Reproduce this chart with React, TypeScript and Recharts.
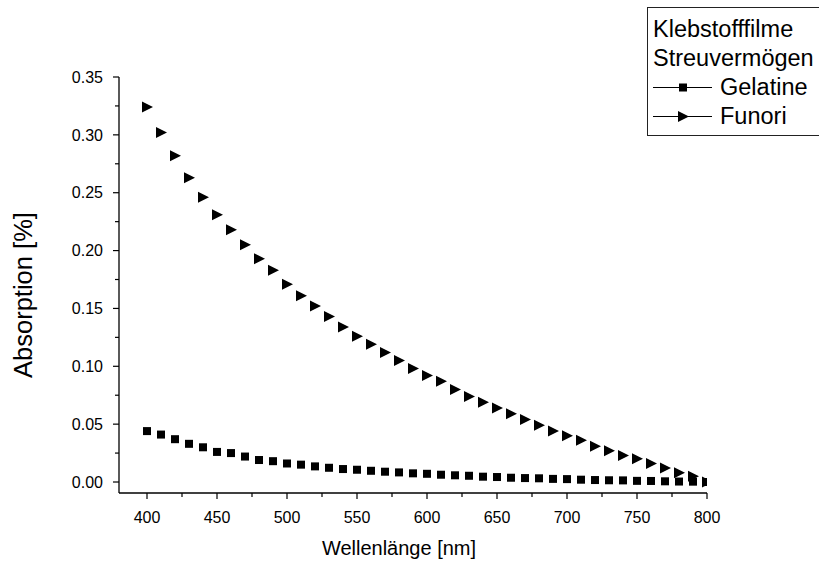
import { ScatterChart, Scatter, XAxis, YAxis, Legend } from 'recharts';

const wavelengths = [
  400, 410, 420, 430, 440, 450, 460, 470, 480, 490, 500, 510, 520, 530, 540, 550, 560, 570, 580, 590, 600,
  610, 620, 630, 640, 650, 660, 670, 680, 690, 700, 710, 720, 730, 740, 750, 760, 770, 780, 790, 800,
];

const gelatine = [
  0.044, 0.041, 0.037, 0.033, 0.030, 0.026, 0.025, 0.022, 0.019, 0.018, 0.016, 0.015, 0.0135, 0.0123, 0.0112,
  0.0106, 0.0097, 0.0089, 0.0083, 0.0075, 0.0071, 0.0063, 0.0058, 0.0054, 0.0046, 0.0043, 0.0037, 0.0034,
  0.0032, 0.0027, 0.0025, 0.002, 0.0017, 0.0015, 0.0014, 0.001, 0.0009, 0.0006, 0.0004, 0.0003, 0.0,
];

const funori = [
  0.324, 0.302, 0.282, 0.263, 0.246, 0.231, 0.218, 0.205, 0.193, 0.183, 0.171, 0.161, 0.152, 0.143, 0.134,
  0.126, 0.119, 0.112, 0.105, 0.098, 0.092, 0.087, 0.080, 0.074, 0.069, 0.064, 0.059, 0.054, 0.049, 0.044,
  0.040, 0.036, 0.031, 0.027, 0.023, 0.020, 0.016, 0.012, 0.008, 0.005, 0.0,
];

const xMajor = [400, 450, 500, 550, 600, 650, 700, 750, 800];
const xMinor = [425, 475, 525, 575, 625, 675, 725, 775];
const yMajor = [0, 0.05, 0.1, 0.15, 0.2, 0.25, 0.3, 0.35];
const yMinor = [0.025, 0.075, 0.125, 0.175, 0.225, 0.275, 0.325];

const legendTitle = ['Klebstofffilme', 'Streuvermögen'];
const seriesNames = ['Gelatine', 'Funori'];

const FONT = '"Liberation Sans", Arial, sans-serif';

const gelatineData = wavelengths.map((x, i) => ({ x, y: gelatine[i] }));
const funoriData = wavelengths.map((x, i) => ({ x, y: funori[i] }));

const Square = (props: any) => {
  const { cx, cy } = props;
  return <rect x={cx - 4} y={cy - 4} width={8} height={8} fill="#000" />;
};

const Triangle = (props: any) => {
  const { cx, cy } = props;
  return <polygon points={`${cx - 5},${cy - 5.5} ${cx + 6},${cy} ${cx - 5},${cy + 5.5}`} fill="#000" />;
};

const XTick = (props: any) => {
  const { x, y, payload } = props;
  const major = xMajor.includes(payload.value);
  return (
    <g>
      <line x1={x} y1={y} x2={x} y2={y + (major ? 6 : 4)} stroke="#000" strokeWidth={1.2} />
      {major && (
        <text x={x} y={y + 30} textAnchor="middle" fontSize={16} fontFamily={FONT} fill="#000">
          {payload.value}
        </text>
      )}
    </g>
  );
};

const YTick = (props: any) => {
  const { x, y, payload } = props;
  const major = yMajor.some((v) => Math.abs(v - payload.value) < 1e-9);
  return (
    <g>
      <line x1={x} y1={y} x2={x - (major ? 6 : 4)} y2={y} stroke="#000" strokeWidth={1.2} />
      {major && (
        <text x={x - 16} y={y} dy="0.355em" textAnchor="end" fontSize={16} fontFamily={FONT} fill="#000">
          {payload.value.toFixed(2)}
        </text>
      )}
    </g>
  );
};

const LegendBox = () => (
  <div
    style={{
      border: '1px solid #222',
      borderRight: 'none',
      padding: '7px 0 4px 5px',
      fontFamily: FONT,
      fontSize: 23.5,
      lineHeight: '29px',
      color: '#000',
      background: '#fff',
      boxSizing: 'border-box',
      width: 172,
      whiteSpace: 'nowrap',
      overflow: 'hidden',
    }}
  >
    {legendTitle.map((t) => (
      <div key={t}>{t}</div>
    ))}
    {seriesNames.map((name, i) => (
      <div key={name} style={{ display: 'flex', alignItems: 'center', height: 29 }}>
        <svg width={62} height={29} style={{ flex: 'none' }}>
          <line x1={0} y1={14.5} x2={59} y2={14.5} stroke="#000" strokeWidth={1} />
          {i === 0 ? <Square cx={30} cy={14.5} /> : <Triangle cx={30} cy={14.5} />}
        </svg>
        <span style={{ marginLeft: 5 }}>{name}</span>
      </div>
    ))}
  </div>
);

export default function App() {
  return (
    <div style={{ position: 'absolute', left: 0, top: 0, width: 819, height: 564, background: '#fff' }}>
      <ScatterChart width={819} height={564} margin={{ top: 77, right: 112, bottom: 0, left: 0 }}>
        <XAxis
          type="number"
          dataKey="x"
          domain={[380, 800]}
          ticks={[...xMajor, ...xMinor].sort((a, b) => a - b)}
          interval={0}
          tickLine={false}
          tickSize={0}
          tickMargin={0}
          tick={<XTick />}
          axisLine={{ stroke: '#000', strokeWidth: 1.3 }}
          height={71}
          allowDataOverflow
          label={{
            content: ({ viewBox }: any) => (
              <text
                x={viewBox.x + viewBox.width / 2 - 14}
                y={viewBox.y + 62}
                textAnchor="middle"
                fontSize={20}
                fontFamily={FONT}
                fill="#000"
              >
                Wellenlänge [nm]
              </text>
            ),
          }}
        />
        <YAxis
          type="number"
          dataKey="y"
          domain={[-0.0095, 0.35]}
          ticks={[...yMajor, ...yMinor].sort((a, b) => a - b)}
          interval={0}
          tickLine={false}
          tickSize={0}
          tickMargin={0}
          tick={<YTick />}
          axisLine={{ stroke: '#000', strokeWidth: 1.3 }}
          width={119}
          allowDataOverflow
          label={{
            content: ({ viewBox }: any) => (
              <text
                transform={`translate(32, ${viewBox.y + viewBox.height / 2 + 10}) rotate(-90)`}
                textAnchor="middle"
                fontSize={25.5}
                fontFamily={FONT}
                fill="#000"
              >
                Absorption [%]
              </text>
            ),
          }}
        />
        <Legend
          layout="horizontal"
          verticalAlign="middle"
          align="center"
          wrapperStyle={{ top: 7, left: 647, width: 172 }}
          content={() => <LegendBox />}
        />
        <Scatter name="Gelatine" data={gelatineData} shape={Square} isAnimationActive={false} />
        <Scatter name="Funori" data={funoriData} shape={Triangle} isAnimationActive={false} />
      </ScatterChart>
    </div>
  );
}
